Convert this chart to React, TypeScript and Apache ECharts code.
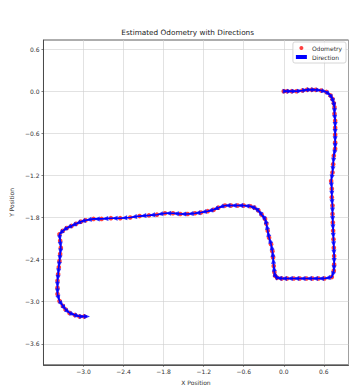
import React, { useEffect, useRef } from 'react';
import * as echarts from 'echarts';

const xPos = [
  0.0, 0.05, 0.12, 0.19, 0.28, 0.35, 0.42, 0.48, 0.56, 0.64, 0.7, 0.73, 0.75, 0.76, 0.76, 0.77, 0.77, 0.77, 0.77, 0.77,
  0.75, 0.74, 0.73, 0.71, 0.72, 0.72, 0.73, 0.73, 0.735, 0.74, 0.745, 0.75, 0.755, 0.755, 0.75, 0.72,
  0.61, 0.52, 0.43, 0.34, 0.24, 0.15, 0.05, -0.03, -0.1, -0.13, -0.14, -0.15, -0.16, -0.17, -0.19, -0.22,
  -0.24, -0.26, -0.28, -0.33, -0.38, -0.44, -0.5, -0.6, -0.69, -0.79, -0.88, -0.98, -1.05, -1.14, -1.24,
  -1.33, -1.44, -1.55, -1.66, -1.78, -1.9, -2.02, -2.16, -2.3, -2.45, -2.59, -2.73, -2.85, -2.97, -3.04,
  -3.11, -3.18, -3.25, -3.31, -3.36, -3.35, -3.34, -3.35, -3.36, -3.37, -3.38, -3.39, -3.39, -3.39, -3.36,
  -3.31, -3.27, -3.21, -3.13, -3.06, -2.99,
];
const yPos = [
  0.0, 0.0, 0.0, 0.0, 0.01, 0.02, 0.02, 0.02, 0.01, -0.01, -0.06, -0.11, -0.17, -0.23, -0.32, -0.42, -0.52, -0.62, -0.73, -0.82,
  -0.92, -1.04, -1.16, -1.28, -1.39, -1.51, -1.63, -1.75, -1.87, -1.99, -2.11, -2.23, -2.35, -2.47, -2.56, -2.65,
  -2.67, -2.67, -2.67, -2.67, -2.67, -2.67, -2.67, -2.67, -2.66, -2.63, -2.58, -2.49, -2.37, -2.28, -2.18, -2.09,
  -1.99, -1.89, -1.82, -1.76, -1.7, -1.66, -1.64, -1.63, -1.63, -1.63, -1.63, -1.66, -1.69, -1.71, -1.73,
  -1.74, -1.75, -1.75, -1.74, -1.74, -1.76, -1.77, -1.78, -1.8, -1.81, -1.81, -1.82, -1.82, -1.84, -1.86,
  -1.89, -1.92, -1.95, -1.99, -2.04, -2.13, -2.23, -2.32, -2.42, -2.51, -2.61, -2.7, -2.8, -2.89, -2.99,
  -3.06, -3.11, -3.16, -3.19, -3.21, -3.21,
];
const xTicks = [-3.0, -2.4, -1.8, -1.2, -0.6, 0.0, 0.6];
const yTicks = [-3.6, -3.0, -2.4, -1.8, -1.2, -0.6, 0.0, 0.6];

const FONT = 'DejaVu Sans';

export default function App() {
  const ref = useRef<HTMLDivElement>(null);
  useEffect(() => {
    if (!ref.current) return;
    const chart = echarts.init(ref.current, null, { renderer: 'svg' });
    const n = xPos.length;
    const pts = xPos.map((x, i) => [x, yPos[i]]);
    const heads = pts.map((p, i) => {
      const q = i < n - 1 ? pts[i + 1] : [2 * p[0] - pts[i - 1][0], 2 * p[1] - pts[i - 1][1]];
      const dx = q[0] - p[0];
      const dy = q[1] - p[1];
      const ang = (Math.atan2(dy, dx) * 180) / Math.PI;
      return { value: [p[0] + 0.6 * dx, p[1] + 0.6 * dy], symbolRotate: ang - 90 };
    });
    const shaft = [...pts, heads[n - 1].value];
    const fmt = (v: number) => (Math.abs(v) < 1e-9 ? '0.0' : v.toFixed(1).replace('-', '\u2212'));
    chart.setOption({
      animation: false,
      backgroundColor: '#ffffff',
      textStyle: { fontFamily: FONT },
      title: {
        text: 'Estimated Odometry with Directions',
        left: 187.7,
        textAlign: 'center',
        top: 29,
        padding: 0,
        textStyle: { fontSize: 7.3, fontWeight: 'normal', color: '#222', fontFamily: FONT },
      },
      legend: {
        data: [
          { name: 'Odometry', icon: 'circle' },
          { name: 'Direction', icon: 'rect' },
        ],
        orient: 'vertical',
        right: 15,
        top: 42,
        itemWidth: 11,
        itemHeight: 4,
        itemGap: 3,
        padding: [3, 4, 3, 3],
        borderColor: '#cccccc',
        borderWidth: 0.8,
        borderRadius: 2,
        backgroundColor: 'rgba(255,255,255,0.8)',
        textStyle: { fontSize: 6, color: '#333333', fontFamily: FONT },
        selectedMode: false,
      },
      grid: {
        left: 27,
        top: 40,
        right: 12.5,
        bottom: 27.2,
        show: true,
        borderColor: '#333',
        borderWidth: 0.8,
        backgroundColor: 'transparent',
      },
      xAxis: {
        type: 'value',
        min: -3.6,
        max: 0.97,
        interval: 0.6,
        name: 'X Position',
        nameLocation: 'middle',
        nameGap: 12,
        nameTextStyle: { fontSize: 6, color: '#333', fontFamily: FONT },
        axisLine: { show: true, onZero: false, lineStyle: { color: '#333', width: 0.8 } },
        axisTick: { show: true, length: 2, lineStyle: { color: '#333', width: 0.6 } },
        axisLabel: {
          fontSize: 6,
          color: '#333',
          margin: 4,
          showMinLabel: false,
          showMaxLabel: false,
          formatter: (v: number) => (xTicks.some((t) => Math.abs(t - v) < 1e-6) ? fmt(v) : ''),
        },
        splitLine: { show: true, lineStyle: { color: '#cfcfcf', width: 0.6 } },
      },
      yAxis: {
        type: 'value',
        min: -3.9,
        max: 0.73,
        name: 'Y Position',
        nameLocation: 'middle',
        nameGap: 27,
        nameTextStyle: { fontSize: 6, color: '#333', fontFamily: FONT },
        axisLine: { show: true, onZero: false, lineStyle: { color: '#333', width: 0.8 } },
        axisTick: { show: true, length: 2, customValues: yTicks, lineStyle: { color: '#333', width: 0.6 } },
        axisLabel: { fontSize: 6, color: '#333', margin: 4, customValues: yTicks, formatter: fmt },
        splitLine: { show: true, lineStyle: { color: '#cfcfcf', width: 0.6 } },
      },
      series: [
        {
          name: 'Odometry',
          type: 'scatter',
          data: pts,
          symbol: 'circle',
          symbolSize: 4.6,
          itemStyle: { color: '#ff1010' },
          z: 2,
          silent: true,
        },
        {
          name: 'Direction',
          type: 'line',
          data: shaft,
          showSymbol: false,
          symbol: 'none',
          color: '#0000ff',
          lineStyle: { color: '#0000ff', width: 1.6 },
          z: 3,
          silent: true,
        },
        {
          name: 'Direction',
          type: 'scatter',
          data: heads,
          symbol: 'triangle',
          symbolSize: [5, 6],
          itemStyle: { color: '#0000ff' },
          z: 4,
          silent: true,
        },
      ],
    });
    return () => chart.dispose();
  }, []);
  return <div ref={ref} style={{ width: 361, height: 392, position: 'absolute', left: 0, top: 0 }} />;
}
